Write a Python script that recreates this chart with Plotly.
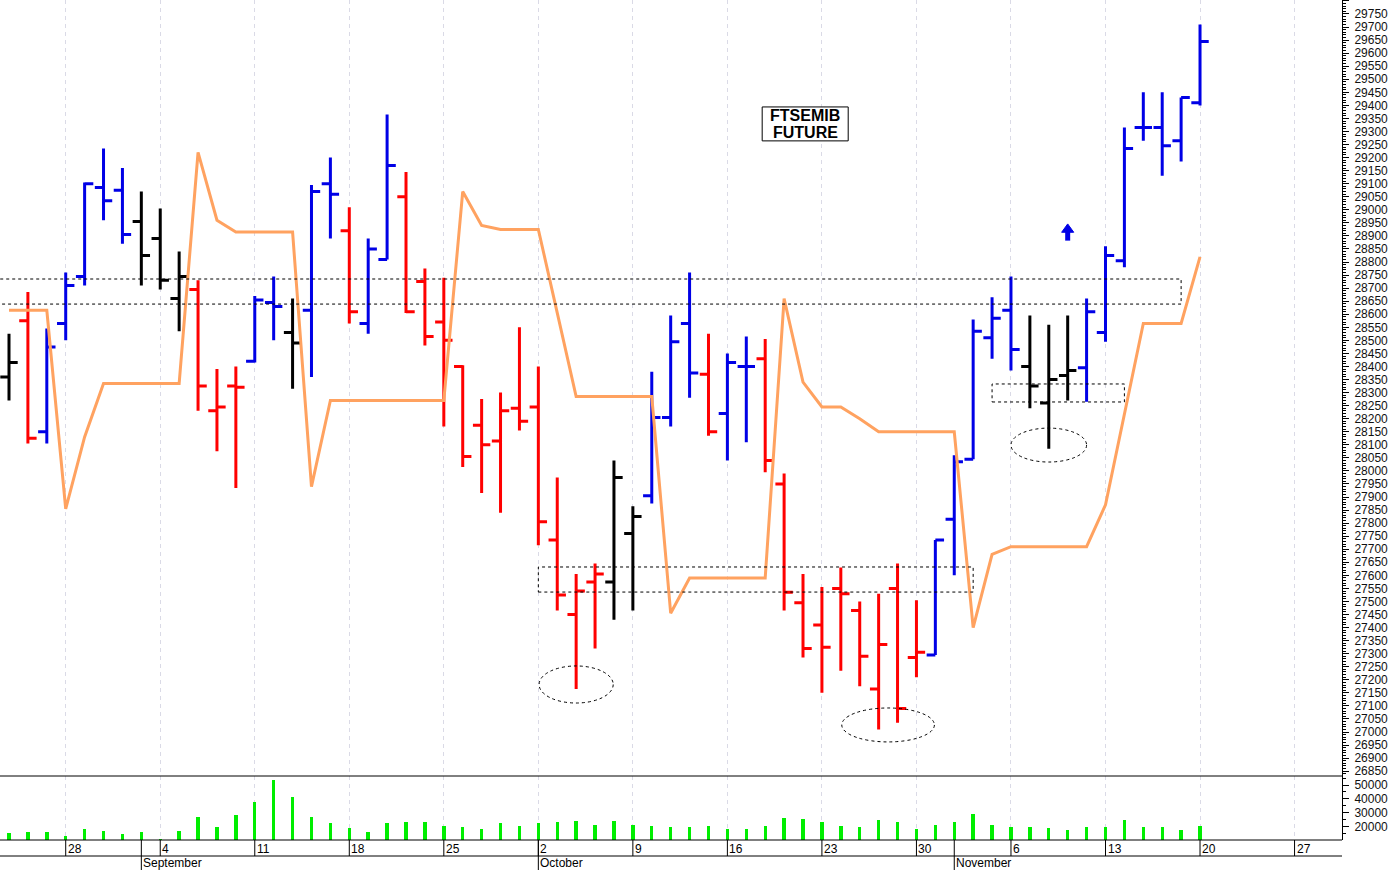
import pandas as pd
import plotly.graph_objects as go
from plotly.subplots import make_subplots

# ---------------- data ----------------
dates = pd.bdate_range("2023-08-23", "2023-11-20")          # 64 trading days
axis_days = pd.bdate_range("2023-08-23", "2023-11-30")

opens = [28360, 28575, 28150, 28565, 28745, 29085, 29075, 28955, 28890, 28660,
         28695, 28230, 28325, 28420, 28645, 28530, 28615, 29100, 28920, 28565,
         28810, 29050, 28725, 28570, 28400, 28175, 28115, 28240, 28245, 27735,
         27450, 27575, 27575, 27760, 27905, 28205, 28565, 28370, 28220, 28400,
         28430, 27950, 27495, 27410, 27550, 27465, 27165, 27550, 27285, 27295,
         27815, 28045, 28510, 28615, 28400, 28260, 28365, 28395, 28530, 28805,
         29315, 29315, 29265, 29410]
highs = [28525, 28685, 28545, 28760, 29105, 29235, 29160, 29070, 29005, 28840,
         28730, 28390, 28400, 28670, 28745, 28660, 29095, 29200, 29010, 28890,
         29365, 29145, 28775, 28740, 28405, 28275, 28300, 28550, 28400, 27975,
         27605, 27645, 28040, 27865, 28380, 28595, 28760, 28525, 28450, 28515,
         28505, 27990, 27605, 27555, 27630, 27500, 27530, 27645, 27505, 27735,
         28060, 28580, 28665, 28745, 28595, 28560, 28595, 28660, 28860, 29315,
         29450, 29450, 29430, 29710]
lows = [28270, 28105, 28105, 28500, 28710, 28960, 28870, 28710, 28695, 28535,
        28230, 28075, 27935, 28415, 28500, 28315, 28360, 28890, 28565, 28525,
        28810, 28605, 28480, 28170, 28015, 27915, 27840, 28155, 27715, 27465,
        27165, 27320, 27430, 27465, 27875, 28170, 28280, 28135, 28040, 28110,
        27995, 27465, 27285, 27150, 27235, 27175, 27010, 27035, 27210, 27295,
        27600, 28045, 28430, 28385, 28240, 28085, 28270, 28265, 28495, 28780,
        29265, 29130, 29185, 29400]
closes = [28415, 28125, 28475, 28710, 29100, 29035, 28905, 28825, 28730, 28745,
          28325, 28245, 28320, 28655, 28630, 28490, 29070, 29060, 28610, 28850,
          29170, 28610, 28515, 28500, 28055, 28100, 28230, 28190, 27805, 27525,
          27540, 27605, 27975, 27825, 28205, 28495, 28375, 28150, 28415, 28400,
          28040, 27535, 27320, 27325, 27530, 27290, 27335, 27090, 27305, 27735,
          28035, 28535, 28585, 28465, 28325, 28350, 28385, 28610, 28825, 29235,
          29315, 29245, 29430, 29645]
bar_state = list("KRBBBBBKKKRRRBBKBBRBBRRRRRRRRRRRKKBBBRBBRRRRRRRRRBBBBBKKKBBBBBBB")

volume = [15250, 16200, 16000, 13100, 18600, 16700, 14750, 16200, 11400, 16700,
          26800, 19800, 28400, 37500, 53600, 41400, 27000, 22700, 19300, 16200,
          22700, 23400, 23400, 20500, 19600, 18100, 22700, 20500, 22700, 23400,
          24100, 21200, 24100, 21200, 20500, 19800, 19600, 20500, 18100, 18100,
          20500, 26200, 25500, 23100, 20500, 19600, 24800, 23400, 18600, 21400,
          23400, 29100, 21400, 19600, 19800, 18800, 17400, 19800, 19800, 24800,
          19600, 19600, 17400, 20500]

stop_line = [28615, 28615, 28615, 27855, 28130, 28335, 28335, 28335, 28335, 28335,
             29220, 28960, 28915, 28915, 28915, 28915, 27940, 28270, 28270, 28270,
             28270, 28270, 28270, 28270, 29070, 28940, 28925, 28925, 28925, 28605,
             28285, 28285, 28285, 28285, 28285, 27455, 27590, 27590, 27590, 27590,
             27590, 28660, 28340, 28245, 28245, 28200, 28150, 28150, 28150, 28150,
             28150, 27400, 27680, 27710, 27710, 27710, 27710, 27710, 27870, 28220,
             28565, 28565, 28565, 28820]

week_dates = ["2023-08-28", "2023-09-04", "2023-09-11", "2023-09-18", "2023-09-25",
              "2023-10-02", "2023-10-09", "2023-10-16", "2023-10-23", "2023-10-30",
              "2023-11-06", "2023-11-13", "2023-11-20", "2023-11-27"]
week_labels = ["28", "4", "11", "18", "25", "2", "9", "16", "23", "30", "6", "13", "20", "27"]
month_dates = ["2023-09-01", "2023-10-02", "2023-11-01"]
month_labels = ["September", "October", "November"]

zone_start = [-1, 28, 52]
zone_end = [62, 51, 59]
zone_low = [28639, 27536, 28264]
zone_high = [28735, 27632, 28333]

ring_x0 = [28.04, 44.05, 53.0]
ring_x1 = [31.96, 48.95, 57.0]
ring_low = [27111, 26962, 28034]
ring_high = [27253, 27092, 28164]

arrow_day = 56
arrow_tip, arrow_base, arrow_tail = 28946, 28914, 28882
title_lines = ["FTSEMIB", "FUTURE"]

# ---------------- figure ----------------
pos = {d: i for i, d in enumerate(axis_days)}
idx = list(range(len(dates)))
week_idx = [pos[pd.Timestamp(d)] for d in week_dates]
month_idx = [pos[pd.Timestamp(d)] for d in month_dates]

H_PLOT = 840.0
fig = make_subplots(rows=2, cols=1, shared_xaxes=True, vertical_spacing=0,
                    row_heights=[776, 64])

palette = {"B": "#0000e6", "R": "#ff0000", "K": "#000000"}
for key, col in palette.items():
    sel = [i for i in idx if bar_state[i] == key]
    fig.add_trace(go.Ohlc(
        x=sel,
        open=[opens[i] for i in sel], high=[highs[i] for i in sel],
        low=[lows[i] for i in sel], close=[closes[i] for i in sel],
        increasing=dict(line=dict(color=col, width=3)),
        decreasing=dict(line=dict(color=col, width=3)),
        tickwidth=0.46, showlegend=False, hoverinfo="skip"), row=1, col=1)

fig.add_trace(go.Scatter(x=idx, y=stop_line, mode="lines",
                         line=dict(color="#ffa260", width=3),
                         showlegend=False, hoverinfo="skip"), row=1, col=1)

fig.add_trace(go.Bar(x=idx, y=volume, width=0.18, marker_color="#00ee00",
                     marker_line_width=0, showlegend=False, hoverinfo="skip"),
              row=2, col=1)

xr = [-0.476, 70.51]
for ax in ("xaxis", "xaxis2"):
    fig.layout[ax].update(range=xr, tickmode="array", tickvals=week_idx,
                          showticklabels=False, ticks="", showgrid=True,
                          gridcolor="#dadae6", griddash="4px,4px", gridwidth=1,
                          zeroline=False, showline=False, rangeslider=dict(visible=False))

tfont = dict(family="Arial, Liberation Sans", size=12, color="#111")
fig.update_yaxes(row=1, col=1, side="right", range=[26831.5, 29803.6],
                 tickmode="linear", tick0=26850, dtick=50, ticks="outside",
                 ticklen=6, tickcolor="black", tickwidth=1, showgrid=False,
                 zeroline=False, showline=True, linecolor="black", linewidth=1,
                 ticklabelstandoff=3, tickformat="d", exponentformat="none",
                 automargin=False, tickfont=tfont,
                 minor=dict(dtick=10, ticklen=3, ticks="outside", tickcolor="black",
                            showgrid=False))
fig.update_yaxes(row=2, col=1, side="right", range=[10430, 56475],
                 tickmode="array", tickvals=[20000, 30000, 40000, 50000],
                 ticktext=["20000", "30000", "40000", "50000"],
                 ticks="outside", ticklen=6, tickcolor="black", showgrid=False,
                 zeroline=False, showline=True, linecolor="black", linewidth=1,
                 ticklabelstandoff=3, automargin=False, tickfont=tfont,
                 minor=dict(dtick=5000, ticklen=3, ticks="outside", tickcolor="black",
                            showgrid=False))

dashed = dict(color="black", width=1, dash="3px,3px")
shapes = []
for x0, x1, y0, y1 in zip(zone_start, zone_end, zone_low, zone_high):
    shapes.append(dict(type="rect", xref="x", yref="y", x0=x0, x1=x1, y0=y0, y1=y1,
                       line=dashed, layer="above"))
for x0, x1, y0, y1 in zip(ring_x0, ring_x1, ring_low, ring_high):
    shapes.append(dict(type="circle", xref="x", yref="y", x0=x0, x1=x1, y0=y0, y1=y1,
                       line=dashed, layer="above"))
sep = 64 / H_PLOT
for yy in (sep, 0, -16 / H_PLOT):
    shapes.append(dict(type="line", xref="paper", yref="paper", x0=0, x1=1,
                       y0=yy, y1=yy, line=dict(color="black", width=1)))
for wi in week_idx:
    shapes.append(dict(type="line", xref="x", yref="paper", x0=wi, x1=wi,
                       y0=0, y1=-16 / H_PLOT, line=dict(color="black", width=1)))
for mi in month_idx:
    shapes.append(dict(type="line", xref="x", yref="paper", x0=mi, x1=mi,
                       y0=0, y1=-30 / H_PLOT, line=dict(color="black", width=1)))
# title box
shapes.append(dict(type="rect", xref="x", yref="y", x0=39.84, x1=44.39,
                   y0=29264, y1=29394, line=dict(color="black", width=1),
                   fillcolor="white", layer="above"))
# blue up arrow (stem + head)
shapes.append(dict(type="line", xref="x", yref="y", x0=arrow_day, x1=arrow_day,
                   y0=arrow_tail, y1=arrow_base + 5, line=dict(color="#0000e6", width=5),
                   layer="above"))
hw = 0.32
shapes.append(dict(type="path", xref="x", yref="y", layer="above",
                   path="M %f,%f L %f,%f L %f,%f Z" % (arrow_day - hw, arrow_base,
                                                       arrow_day, arrow_tip,
                                                       arrow_day + hw, arrow_base),
                   fillcolor="#0000e6", line=dict(color="#0000e6", width=1)))

annotations = []
lab_font = dict(family="Arial, Liberation Sans", size=12, color="black")
for wi, lab in zip(week_idx, week_labels):
    annotations.append(dict(x=wi, y=-8.5 / H_PLOT, xref="x", yref="paper", text=lab,
                            showarrow=False, xanchor="left", yanchor="middle",
                            xshift=0, font=lab_font))
for mi, lab in zip(month_idx, month_labels):
    annotations.append(dict(x=mi, y=-23.5 / H_PLOT, xref="x", yref="paper", text=lab,
                            showarrow=False, xanchor="left", yanchor="middle",
                            xshift=0, font=lab_font))
for txt, yv in zip(title_lines, [29361, 29296]):
    annotations.append(dict(x=42.12, y=yv, xref="x", yref="y", text="<b>%s</b>" % txt,
                            showarrow=False, xanchor="center", yanchor="middle",
                            font=dict(family="Arial, Liberation Sans", size=16,
                                      color="black")))

fig.update_layout(width=1391, height=870, margin=dict(l=0, r=49, t=0, b=30),
                  paper_bgcolor="white", plot_bgcolor="white", shapes=shapes,
                  annotations=annotations, bargap=0, showlegend=False,
                  font=dict(family="Arial, Liberation Sans"))

fig.write_html("out.html", config={"displayModeBar": False},
               post_script="document.body.style.margin='0';"
                           "document.body.style.overflow='hidden';")
